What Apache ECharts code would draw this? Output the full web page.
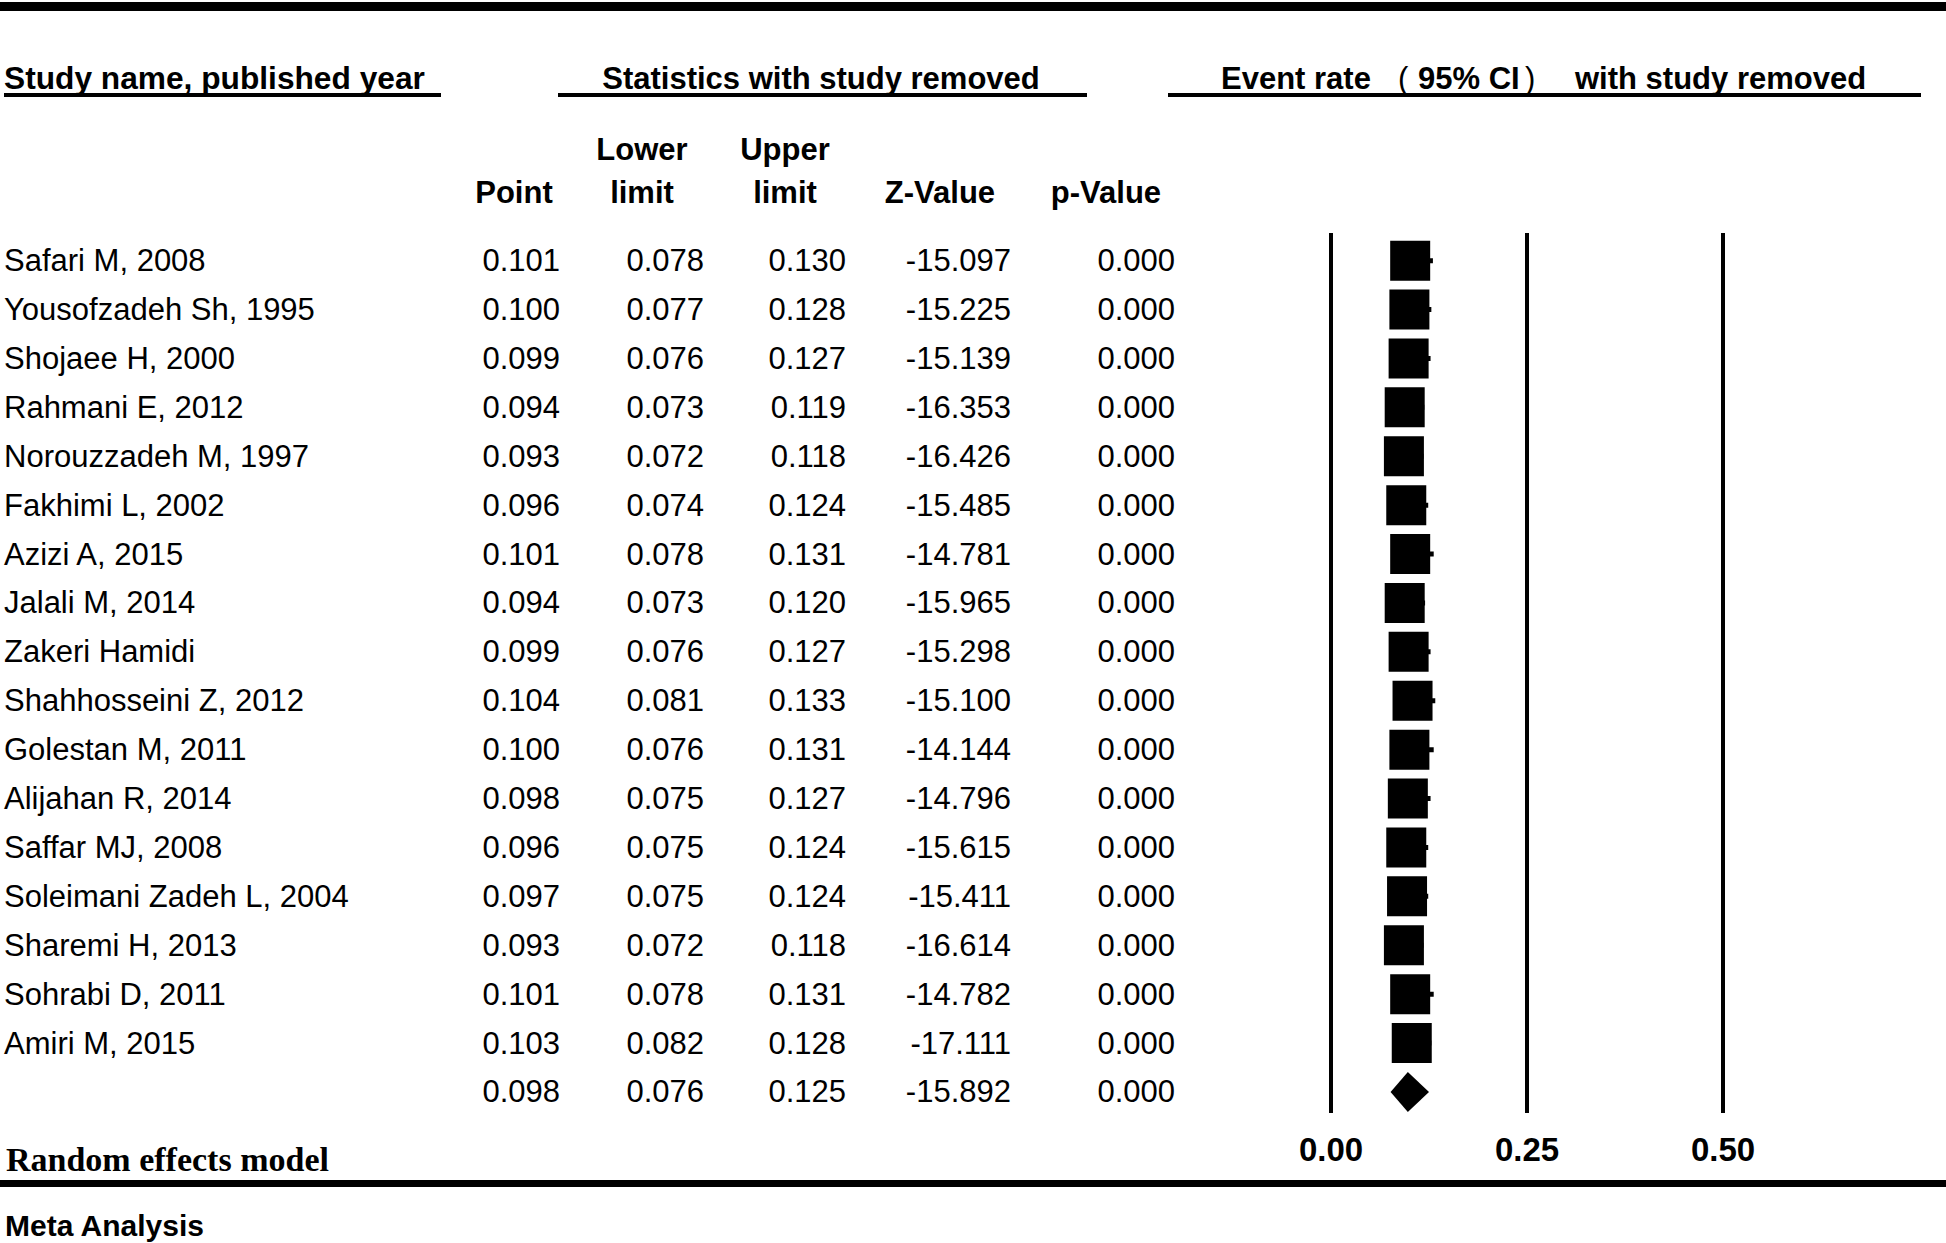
<!DOCTYPE html>
<html><head><meta charset="utf-8">
<script src="https://cdn.jsdelivr.net/npm/echarts@6/dist/echarts.min.js"></script>
<style>html,body{margin:0;padding:0;background:#fff}#c{width:1946px;height:1243px}</style>
</head><body><div id="c"></div>
<script>
const studyNames = ["Safari M, 2008","Yousofzadeh Sh, 1995","Shojaee H, 2000","Rahmani E, 2012","Norouzzadeh M, 1997","Fakhimi L, 2002","Azizi A, 2015","Jalali M, 2014","Zakeri Hamidi","Shahhosseini Z, 2012","Golestan M, 2011","Alijahan R, 2014","Saffar MJ, 2008","Soleimani Zadeh L, 2004","Sharemi H, 2013","Sohrabi D, 2011","Amiri M, 2015"];
const pointEst = [0.101,0.100,0.099,0.094,0.093,0.096,0.101,0.094,0.099,0.104,0.100,0.098,0.096,0.097,0.093,0.101,0.103];
const lowerLim = [0.078,0.077,0.076,0.073,0.072,0.074,0.078,0.073,0.076,0.081,0.076,0.075,0.075,0.075,0.072,0.078,0.082];
const upperLim = [0.130,0.128,0.127,0.119,0.118,0.124,0.131,0.120,0.127,0.133,0.131,0.127,0.124,0.124,0.118,0.131,0.128];
const zValues = [-15.097,-15.225,-15.139,-16.353,-16.426,-15.485,-14.781,-15.965,-15.298,-15.100,-14.144,-14.796,-15.615,-15.411,-16.614,-14.782,-17.111];
const pValues = [0,0,0,0,0,0,0,0,0,0,0,0,0,0,0,0,0];
const summaryRow = [0.098, 0.076, 0.125, -15.892, 0.000];
const xTicks = [0, 0.25, 0.5];
const colHeadTop = ["", "Lower", "Upper", "", ""];
const colHeadBottom = ["Point", "limit", "limit", "Z-Value", "p-Value"];

const N = studyNames.length;
const rowIdx = [];
for (let i = 0; i <= N; i++) rowIdx.push(i);

const SANS = "'Liberation Sans', Arial, sans-serif";
const colRight = [560, 704, 846, 1011, 1175];
const colCenter = [514, 642, 785, 940, 1106];

const chart = echarts.init(document.getElementById('c'), null, {renderer: 'svg'});

function txt(text, x, y, opts) {
  return {
    type: 'text', silent: true,
    style: Object.assign({text: text, x: x, y: y, fill: '#000', fontFamily: SANS, fontSize: 31,
      align: 'left', verticalAlign: 'middle'}, opts || {})
  };
}
function bar(x, y, w, h) {
  return {type: 'rect', silent: true, shape: {x: x, y: y, width: w, height: h}, style: {fill: '#000'}};
}

const graphics = [
  bar(0, 2, 1946, 9),
  txt('Study name, published year', 4, 78, {fontWeight: 'bold', fontSize: 31.7}),
  txt('Statistics with study removed', 821, 78, {fontWeight: 'bold', align: 'center'}),
  txt('Event rate', 1221, 78, {fontWeight: 'bold'}),
  txt('(', 1398, 78, {fontSize: 31}),
  txt('95% CI', 1418, 78, {fontWeight: 'bold'}),
  txt(')', 1525, 78, {fontSize: 31}),
  txt('with study removed', 1575, 78, {fontWeight: 'bold'}),
  bar(4, 93, 437, 4),
  bar(558, 93, 529, 4),
  bar(1168, 93, 753, 4),
  txt('Random effects model', 6, 1159, {fontWeight: 'bold', fontFamily: "'Liberation Serif', 'Times New Roman', serif", fontSize: 34}),
  bar(0, 1180, 1946, 7),
  txt('Meta Analysis', 5, 1225, {fontSize: 30, fontWeight: 'bold'})
];
for (let k = 0; k < colHeadBottom.length; k++) {
  if (colHeadTop[k]) graphics.push(txt(colHeadTop[k], colCenter[k], 149, {fontWeight: 'bold', align: 'center'}));
  graphics.push(txt(colHeadBottom[k], colCenter[k], 192, {fontWeight: 'bold', align: 'center'}));
}

const option = {
  animation: false,
  backgroundColor: '#fff',
  graphic: graphics,
  grid: {left: 1331, width: 392, top: 233, height: 880, containLabel: false},
  xAxis: {
    type: 'value', min: xTicks[0], max: xTicks[xTicks.length - 1], interval: 0.25,
    axisLine: {show: false}, axisTick: {show: false},
    splitLine: {show: true, showMinLine: true, showMaxLine: true, lineStyle: {color: '#000', width: 4}},
    axisLabel: {show: true, margin: 20, color: '#000', fontSize: 33, fontWeight: 'bold', fontFamily: SANS,
      formatter: v => v.toFixed(2)}
  },
  yAxis: {
    type: 'value', inverse: true, min: -0.565, max: 17.43,
    axisLine: {show: false}, axisTick: {show: false}, axisLabel: {show: false}, splitLine: {show: false}
  },
  series: [
    {
      type: 'custom', name: 'table', clip: false, silent: true, z: 1,
      data: rowIdx.map(i => [0, i]),
      renderItem: function (params, api) {
        const i = params.dataIndex;
        const y = api.coord([0, i])[1];
        const vals = i < N ? [pointEst[i], lowerLim[i], upperLim[i], zValues[i], pValues[i]] : summaryRow;
        const children = [];
        if (i < N) children.push(txt(studyNames[i], 4, y));
        for (let k = 0; k < vals.length; k++) {
          children.push(txt(vals[k].toFixed(3), colRight[k], y, {align: 'right'}));
        }
        return {type: 'group', children: children};
      }
    },
    {
      type: 'custom', name: 'ci', clip: false, silent: true, z: 2,
      data: pointEst.map((p, i) => [lowerLim[i], upperLim[i], i]),
      encode: {x: [0, 1], y: 2},
      renderItem: function (params, api) {
        const a = api.coord([api.value(0), api.value(2)]);
        const b = api.coord([api.value(1), api.value(2)]);
        return {type: 'line', shape: {x1: a[0], y1: a[1], x2: b[0], y2: b[1]}, style: {stroke: '#000', lineWidth: 5}};
      }
    },
    {
      type: 'scatter', name: 'point', silent: true, z: 3,
      symbol: 'rect', symbolSize: 40,
      itemStyle: {color: '#000', opacity: 1},
      data: pointEst.map((p, i) => [p, i])
    },
    {
      type: 'custom', name: 'summary', clip: false, silent: true, z: 3,
      data: [[summaryRow[1], summaryRow[0], summaryRow[2], N]],
      encode: {x: [0, 1, 2], y: 3},
      renderItem: function (params, api) {
        const r = api.value(3);
        const L = api.coord([api.value(0), r]);
        const P = api.coord([api.value(1), r]);
        const U = api.coord([api.value(2), r]);
        const h = 20;
        return {type: 'polygon', shape: {points: [[L[0], L[1]], [P[0], P[1] - h], [U[0], U[1]], [P[0], P[1] + h]]},
          style: {fill: '#000'}};
      }
    }
  ]
};
chart.setOption(option);
</script>
</body></html>
